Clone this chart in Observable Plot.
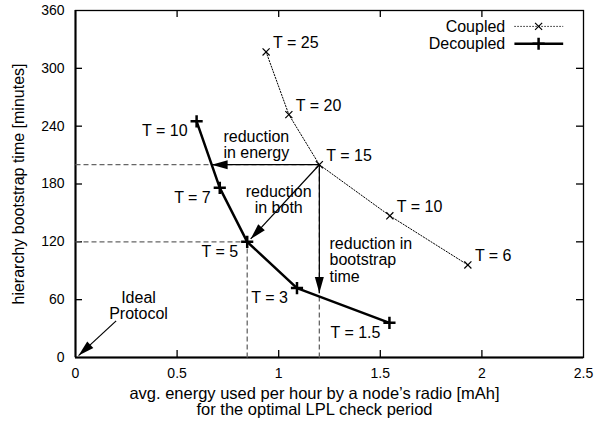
<!DOCTYPE html>
<html><head><meta charset="utf-8">
<script src="https://cdn.jsdelivr.net/npm/d3@7"></script>
<script src="https://cdn.jsdelivr.net/npm/@observablehq/plot@0.6"></script>
<style>body{margin:0;background:#fff;}</style>
</head><body><div id="chart"></div>
<script>
// ---- data ----
const xTicks = [0, 0.5, 1, 1.5, 2, 2.5];
const yTicks = [0, 60, 120, 180, 240, 300, 360];
const coupledT = [25, 20, 15, 10, 6];
const coupledEnergy = [0.938, 1.05, 1.2, 1.547, 1.931];
const coupledTime = [317, 252, 200, 147, 96];
const decoupledT = [10, 7, 5, 3, 1.5];
const decoupledEnergy = [0.596, 0.71, 0.845, 1.09, 1.545];
const decoupledTime = [245, 176, 120, 72, 36];
const seriesNames = ["Coupled", "Decoupled"];
// guide lines (dashed): from-to in data units
const guideFromX = [0, 0, 0.845, 1.2];
const guideFromY = [200, 120, 0, 0];
const guideToX = [1.2, 0.845, 0.845, 1.2];
const guideToY = [200, 120, 120, 200];
// annotation arrows
const arrowFromX = [1.2, 1.2, 1.2, 0.2];
const arrowFromY = [200, 200, 200, 38];
const arrowToX = [0.67, 0.862, 1.2, 0.015];
const arrowToY = [200, 123, 67, 2];
// annotation texts
const noteText = ["reduction\nin energy", "reduction\nin both", "reduction in\nbootstrap\ntime", "Ideal\nProtocol"];
const noteX = [0.728, 1.0, 1.25, 0.31];
const noteY = [221, 164, 101, 54];
const noteAnchor = ["start", "middle", "start", "middle"];
const xLabel = "avg. energy used per hour by a node\u2019s radio [mAh]\nfor the optimal LPL check period";
const yLabel = "hierarchy bootstrap time [minutes]";

// ---- layout ----
const W = 595, H = 422, ML = 75, MR = 12, MT = 10, MB = 65;
const XD = [0, 2.5], YD = [0, 360];
const kx = (W - ML - MR) / (XD[1] - XD[0]);
const ky = (H - MT - MB) / (YD[1] - YD[0]);
const LEG = {textX: 2.115, lineX1: 2.16, lineX2: 2.40, markX: 2.279, rows: [343.5, 325.5]};
const FONT = "'Liberation Sans', Arial, Helvetica, sans-serif";

const coupled = coupledT.map((t, i) => ({T: t, x: coupledEnergy[i], y: coupledTime[i]}));
const decoupled = decoupledT.map((t, i) => ({T: t, x: decoupledEnergy[i], y: decoupledTime[i]}));
const guides = guideFromX.map((_, i) => ({x1: guideFromX[i], y1: guideFromY[i], x2: guideToX[i], y2: guideToY[i]}));
const arrows = arrowFromX.map((_, i) => ({x1: arrowFromX[i], y1: arrowFromY[i], x2: arrowToX[i], y2: arrowToY[i]}));
const notes = noteText.map((t, i) => ({text: t, x: noteX[i], y: noteY[i], anchor: noteAnchor[i]}));
const legendRows = seriesNames.map((n, i) => ({name: n, y: LEG.rows[i]}));

function headSymbol(a) {
  const angle = Math.atan2(-(a.y2 - a.y1) * ky, (a.x2 - a.x1) * kx);
  return {draw(ctx) {
    const L = 16, w = 4.5, c = Math.cos(angle), s = Math.sin(angle);
    const bx = -L * c, by = -L * s, px = -s * w, py = c * w;
    ctx.moveTo(0, 0); ctx.lineTo(bx + px, by + py); ctx.lineTo(bx - px, by - py); ctx.closePath();
  }};
}

const marks = [
  Plot.frame({stroke: "black", strokeWidth: 1.3}),
  Plot.ruleX([0], {stroke: "black", strokeWidth: 2}),
  Plot.ruleY([0], {stroke: "black", strokeWidth: 2}),
  // inner ticks
  Plot.ruleX(xTicks.slice(1, -1), {x: d => d, insetTop: H - MT - MB - 7, strokeWidth: 1.3}),
  Plot.ruleX(xTicks.slice(1, -1), {x: d => d, insetBottom: H - MT - MB - 7, strokeWidth: 1.3}),
  Plot.ruleY(yTicks.slice(1, -1), {y: d => d, insetLeft: W - ML - MR - 7, strokeWidth: 1.3}),
  Plot.ruleY(yTicks.slice(1, -1), {y: d => d, insetRight: W - ML - MR - 7, strokeWidth: 1.3}),
  Plot.axisX({ticks: xTicks, tickSize: 0, tickPadding: 11, fontSize: 14, label: null, tickFormat: d3.format("")}),
  Plot.axisY({ticks: yTicks, tickSize: 0, tickPadding: 11, fontSize: 14, label: null}),
  // dashed guides
  Plot.link(guides, {x1: "x1", y1: "y1", x2: "x2", y2: "y2", stroke: "#666", strokeWidth: 1.3, strokeDasharray: "5,3"}),
  // arrows
  Plot.link(arrows, {x1: "x1", y1: "y1", x2: "x2", y2: "y2", stroke: "black", strokeWidth: 1.2}),
  ...arrows.map(a => Plot.dot([a], {x: "x2", y: "y2", symbol: headSymbol(a), fill: "black", stroke: "none"})),
  // series
  Plot.line(coupled, {x: "x", y: "y", stroke: "black", strokeWidth: 1, strokeDasharray: "1.3,1.7"}),
  Plot.dot(coupled, {x: "x", y: "y", symbol: "times", r: 3.3, stroke: "black", strokeWidth: 1.2}),
  Plot.line(decoupled, {x: "x", y: "y", stroke: "black", strokeWidth: 2.5}),
  Plot.dot(decoupled, {x: "x", y: "y", symbol: "plus", r: 4, stroke: "black", strokeWidth: 2.5}),
  // point labels
  Plot.text(coupled, {x: "x", y: "y", text: d => `T = ${d.T}`, textAnchor: "start", dx: 7, dy: -9, fontSize: 16}),
  Plot.text(decoupled, {x: "x", y: "y", text: d => `T = ${d.T}`, textAnchor: "end", dx: -9, dy: 10, fontSize: 16}),
  // notes
  Plot.text(notes.filter(n => n.anchor === "start"), {x: "x", y: "y", text: "text", textAnchor: "start", lineHeight: 1.03, fontSize: 16}),
  Plot.text(notes.filter(n => n.anchor === "middle"), {x: "x", y: "y", text: "text", textAnchor: "middle", lineHeight: 1.0, fontSize: 16}),
  // legend
  Plot.text(legendRows, {x: () => LEG.textX, y: "y", text: "name", textAnchor: "end", fontSize: 16}),
  Plot.link(legendRows.slice(0, 1), {x1: () => LEG.lineX1, x2: () => LEG.lineX2, y1: "y", y2: "y", stroke: "black", strokeWidth: 1, strokeDasharray: "1.3,1.7"}),
  Plot.dot(legendRows.slice(0, 1), {x: () => LEG.markX, y: "y", symbol: "times", r: 3.3, stroke: "black", strokeWidth: 1.2}),
  Plot.link(legendRows.slice(1), {x1: () => LEG.lineX1, x2: () => LEG.lineX2, y1: "y", y2: "y", stroke: "black", strokeWidth: 2.5}),
  Plot.dot(legendRows.slice(1), {x: () => LEG.markX, y: "y", symbol: "plus", r: 4, stroke: "black", strokeWidth: 2.5}),
  // axis titles
  Plot.text([xLabel], {frameAnchor: "bottom", text: d => d, dy: 44, dx: -15, lineAnchor: "middle", lineHeight: 1.0, fontSize: 16.5}),
  Plot.text([yLabel], {frameAnchor: "left", text: d => d, dx: -57, rotate: -90, textAnchor: "middle", fontSize: 16})
];

const chart = Plot.plot({
  width: W, height: H,
  marginLeft: ML, marginRight: MR, marginTop: MT, marginBottom: MB,
  style: {fontFamily: FONT, fontSize: "16px", background: "white", color: "black"},
  x: {domain: XD, axis: null},
  y: {domain: YD, axis: null},
  marks
});
document.getElementById("chart").appendChild(chart);
</script>
</body></html>
